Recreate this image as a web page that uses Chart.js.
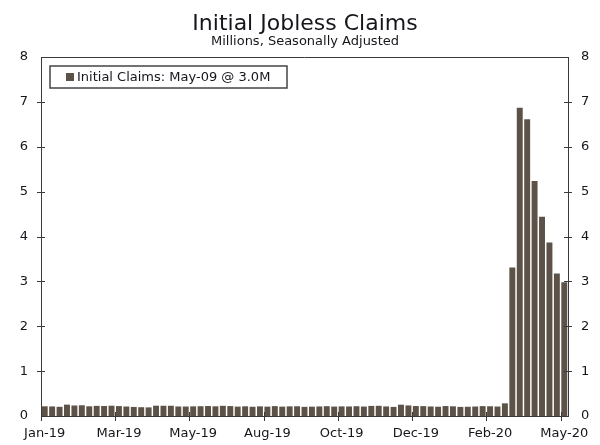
<!DOCTYPE html>
<html lang="en">
<head>
<meta charset="UTF-8">
<title>Initial Jobless Claims</title>
<script src="https://cdn.jsdelivr.net/npm/chart.js@4.4.0/dist/chart.umd.min.js"></script>
<style>
    body { margin: 0; background: #fff; }
    #wrap { width: 600px; height: 445px; overflow: hidden; }
</style>
</head>
<body>
<div id="wrap"><canvas id="claimsChart" width="600" height="445"></canvas></div>
<script>
// week ending dates (Saturdays), Jan 2019 - May 2020
const weekEnding = [
    '2019-01-05','2019-01-12','2019-01-19','2019-01-26','2019-02-02','2019-02-09','2019-02-16','2019-02-23',
    '2019-03-02','2019-03-09','2019-03-16','2019-03-23','2019-03-30','2019-04-06','2019-04-13','2019-04-20',
    '2019-04-27','2019-05-04','2019-05-11','2019-05-18','2019-05-25','2019-06-01','2019-06-08','2019-06-15',
    '2019-06-22','2019-06-29','2019-07-06','2019-07-13','2019-07-20','2019-07-27','2019-08-03','2019-08-10',
    '2019-08-17','2019-08-24','2019-08-31','2019-09-07','2019-09-14','2019-09-21','2019-09-28','2019-10-05',
    '2019-10-12','2019-10-19','2019-10-26','2019-11-02','2019-11-09','2019-11-16','2019-11-23','2019-11-30',
    '2019-12-07','2019-12-14','2019-12-21','2019-12-28','2020-01-04','2020-01-11','2020-01-18','2020-01-25',
    '2020-02-01','2020-02-08','2020-02-15','2020-02-22','2020-02-29','2020-03-07','2020-03-14','2020-03-21',
    '2020-03-28','2020-04-04','2020-04-11','2020-04-18','2020-04-25','2020-05-02','2020-05-09'
];

// initial claims, millions (SA)
const initialClaims = [
    0.216, 0.213, 0.205, 0.253, 0.234, 0.239, 0.216, 0.226,
    0.223, 0.229, 0.221, 0.211, 0.202, 0.196, 0.192, 0.230,
    0.228, 0.228, 0.212, 0.211, 0.215, 0.218, 0.222, 0.216,
    0.227, 0.221, 0.209, 0.216, 0.206, 0.215, 0.209, 0.220,
    0.209, 0.215, 0.217, 0.204, 0.208, 0.213, 0.219, 0.210,
    0.214, 0.212, 0.218, 0.211, 0.225, 0.227, 0.213, 0.203,
    0.252, 0.235, 0.222, 0.220, 0.212, 0.207, 0.222, 0.216,
    0.203, 0.206, 0.211, 0.220, 0.217, 0.211, 0.282, 3.307,
    6.867, 6.615, 5.237, 4.442, 3.867, 3.176, 2.981
];

// labelled every 10 weeks
const xTickLabels = ['Jan-19', 'Mar-19', 'May-19', 'Aug-19', 'Oct-19', 'Dec-19', 'Feb-20', 'May-20'];
const yTicks = [0, 1, 2, 3, 4, 5, 6, 7, 8];
const seriesLabel = 'Initial Claims: May-09 @ 3.0M';

const barColor = '#5c5248';
const axisColor = '#3a3a3a';
const textColor = '#15151c';
const fontFamily = '"DejaVu Sans", Verdana, sans-serif';

// top border line, tick marks crossing the axes, boxed legend
const framePlugin = {
    id: 'frame',
    afterDatasetsDraw(chart) {
        const ctx = chart.ctx;
        const a = chart.chartArea;
        const x = chart.scales.x;
        const y = chart.scales.y;
        const half = (x.getPixelForValue(1) - x.getPixelForValue(0)) / 2;
        ctx.save();
        ctx.strokeStyle = axisColor;
        ctx.lineWidth = 1;
        ctx.beginPath();
        ctx.moveTo(a.left, Math.round(a.top) + 0.5);
        ctx.lineTo(a.right, Math.round(a.top) + 0.5);
        yTicks.slice(1, -1).forEach(v => {
            const py = Math.round(y.getPixelForValue(v)) + 0.5;
            ctx.moveTo(a.left - 4, py); ctx.lineTo(a.left + 4, py);
            ctx.moveTo(a.right - 4, py); ctx.lineTo(a.right + 4, py);
        });
        xTickLabels.forEach((lab, k) => {
            const px = Math.round(x.getPixelForValue(k * 10) - half) + 0.5;
            ctx.moveTo(px, a.bottom - 4); ctx.lineTo(px, a.bottom + 5);
        });
        ctx.stroke();
        ctx.restore();
    },
    afterDraw(chart) {
        const ctx = chart.ctx;
        const a = chart.chartArea;
        const ds = chart.data.datasets[0];
        ctx.save();
        ctx.font = '13px ' + fontFamily;
        const tw = ctx.measureText(ds.label).width;
        const bx = Math.round(a.left) + 9, by = Math.round(a.top) + 9;
        const bw = Math.round(tw) + 44, bh = 22;
        ctx.fillStyle = '#fff';
        ctx.fillRect(bx, by, bw, bh);
        ctx.strokeStyle = '#444';
        ctx.lineWidth = 1.5;
        ctx.strokeRect(bx, by, bw, bh);
        ctx.fillStyle = ds.backgroundColor;
        ctx.fillRect(bx + 16, by + 7, 8, 8);
        ctx.fillStyle = textColor;
        ctx.textBaseline = 'middle';
        ctx.fillText(ds.label, bx + 27, by + bh / 2 + 1);
        ctx.restore();
    }
};

const yAxis = (pos, w) => ({
    position: pos,
    min: 0,
    max: 8,
    afterFit: s => { s.width = w; },
    grid: { display: false, drawTicks: false },
    border: { display: true, color: axisColor, width: 1 },
    ticks: {
        stepSize: 1,
        padding: 13,
        color: textColor,
        font: { family: fontFamily, size: 13 }
    }
});

new Chart(document.getElementById('claimsChart'), {
    type: 'bar',
    data: {
        labels: weekEnding,
        datasets: [{
            label: seriesLabel,
            data: initialClaims,
            backgroundColor: barColor,
            categoryPercentage: 1.0,
            barPercentage: 0.8,
            yAxisID: 'y'
        }]
    },
    options: {
        responsive: false,
        animation: false,
        layout: { padding: { left: 10, right: 0, top: 0, bottom: 0 } },
        plugins: {
            legend: { display: false },
            tooltip: { enabled: false },
            title: {
                display: true,
                text: 'Initial Jobless Claims',
                color: textColor,
                font: { family: fontFamily, size: 22, weight: 'normal', lineHeight: 1.0 },
                padding: { top: 13, bottom: 0 }
            },
            subtitle: {
                display: true,
                text: 'Millions, Seasonally Adjusted',
                color: textColor,
                font: { family: fontFamily, size: 13, lineHeight: 1.0 },
                padding: { top: 0, bottom: 9 }
            }
        },
        scales: {
            x: {
                offset: true,
                afterFit: s => { s.height = 29; },
                grid: { display: false, drawTicks: false },
                border: { display: true, color: axisColor, width: 1 },
                ticks: {
                    autoSkip: false,
                    maxRotation: 0,
                    padding: 10,
                    color: textColor,
                    font: { family: fontFamily, size: 13 },
                    callback: (v, i) => (i % 10 === 0 ? xTickLabels[i / 10] : '')
                }
            },
            y: yAxis('left', 31),
            y2: yAxis('right', 32)
        }
    },
    plugins: [framePlugin]
});
</script>
</body>
</html>
